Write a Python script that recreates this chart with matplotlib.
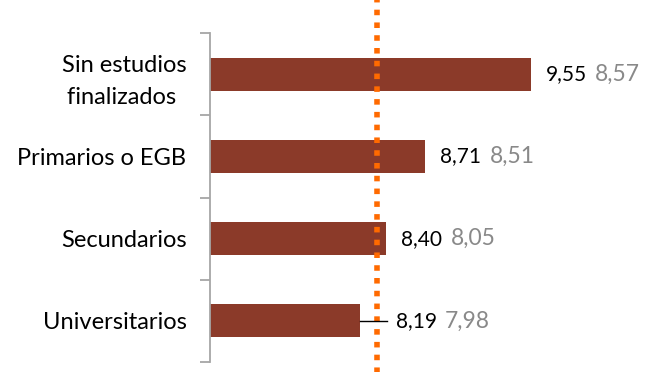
import numpy as np
import matplotlib.pyplot as plt

plt.rcParams['font.family'] = ['Lato', 'DejaVu Sans']

categorias = ["Sin estudios\nfinalizados ", "Primarios o EGB", "Secundarios", "Universitarios"]
valores = [9.55, 8.71, 8.40, 8.19]
valores_ref = [8.57, 8.51, 8.05, 7.98]
media = 8.33

fig = plt.figure(figsize=(6.54, 3.72), dpi=100)
W, H = 654, 372
ax = fig.add_axes([210 / W, (H - 362) / H, (W - 210) / W, 329 / H])

y = np.arange(len(categorias))
ax.barh(y, valores, height=0.4, left=0, color="#8B3A29", zorder=2)
ax.set_xlim(7.0, 7.0 + (W - 210) / 125.7)
ax.set_ylim(len(categorias) - 0.5, -0.5)

# linea de la media, sale del area del eje
ax.axvline(media, ymin=-0.04, ymax=1.11, color="#FF6A00", lw=4,
           dashes=(1, 1.3), dash_capstyle="butt", clip_on=False, zorder=3)

for i, (v, r) in enumerate(zip(valores, valores_ref)):
    x_txt, off = v, 11
    if media - 0.25 < v < media:
        # la barra acaba antes de la media: etiqueta con linea guia
        x_txt, off = media + 0.08, 6
        ax.plot([v, x_txt], [i, i], color="black", lw=1, zorder=4)
    t = ax.annotate(f"{v:.2f}".replace(".", ","), (x_txt, i), xytext=(off, 0),
                    textcoords="offset points", va="center", ha="left",
                    fontsize=15, color="black")
    ax.annotate(f"{r:.2f}".replace(".", ","), (1, 0.5), xycoords=t, xytext=(6, 0),
                textcoords="offset points", va="center", ha="left",
                fontsize=16.5, color="#898989")

ax.set_yticks(y)
ax.set_yticklabels(categorias, fontsize=17, multialignment="center", linespacing=1.65)
ax.tick_params(axis="y", length=0, pad=17)
ax.set_yticks(np.arange(-0.5, len(categorias)), minor=True)
ax.tick_params(axis="y", which="minor", length=7, color="#A6A6A6", width=1.3)
ax.set_xticks([])
for s in ["top", "right", "bottom"]:
    ax.spines[s].set_visible(False)
ax.spines["left"].set_color("#A6A6A6")
ax.spines["left"].set_linewidth(1.3)

fig.savefig("out.png", dpi=100)
